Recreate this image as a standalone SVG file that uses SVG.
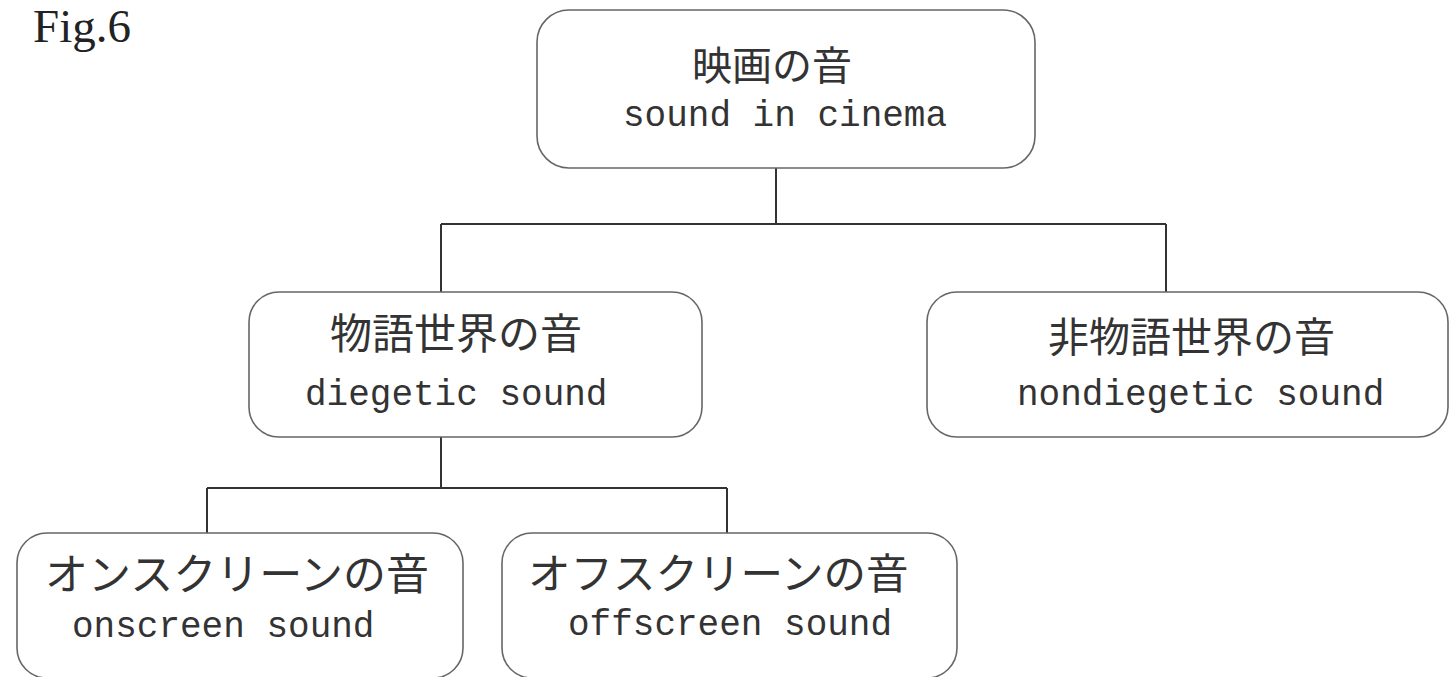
<svg xmlns="http://www.w3.org/2000/svg" width="1450" height="677" viewBox="0 0 1450 677">
<style>
.box{fill:#fff;stroke:#666;stroke-width:1.6}
.conn{fill:none;stroke:#333;stroke-width:2}
.jp{font-family:"Noto Sans CJK JP","Noto Sans CJK SC",sans-serif;font-size:41px;fill:#333}
.en{font-family:"Liberation Mono",monospace;font-size:36px;fill:#333}
.fig{font-family:"Liberation Serif",serif;font-size:47px;fill:#222}
</style>
<rect width="1450" height="677" fill="#fff"/>
<text class="fig" x="33" y="42">Fig.6</text>
<g id="connectors">
<path class="conn" d="M776 168 V224 M441 224 H1166 M441 224 V292 M1166 224 V292"/>
<path class="conn" d="M441 437 V488 M207 488 H727 M207 488 V533 M727 488 V533"/>
</g>
<g id="n-cinema">
<rect class="box" x="537" y="10" width="498" height="158" rx="32"/>
<text class="jp" x="692" y="80" style="font-size:40px">映画の音</text>
<text class="en" x="623" y="126">sound in cinema</text>
</g>
<g id="n-diegetic">
<rect class="box" x="249" y="292" width="453" height="145" rx="30"/>
<text class="jp" x="330" y="349" style="font-size:42px">物語世界の音</text>
<text class="en" x="305" y="405">diegetic sound</text>
</g>
<g id="n-nondiegetic">
<rect class="box" x="927" y="292" width="521" height="145" rx="30"/>
<text class="jp" x="1048" y="352">非物語世界の音</text>
<text class="en" x="1017" y="405">nondiegetic sound</text>
</g>
<g id="n-onscreen">
<rect class="box" x="17" y="533" width="446" height="145" rx="30"/>
<text class="jp" x="45" y="590" style="font-size:43px">オンスクリーンの音</text>
<text class="en" x="72" y="637">onscreen sound</text>
</g>
<g id="n-offscreen">
<rect class="box" x="502" y="533" width="455" height="145" rx="30"/>
<text class="jp" x="528" y="589" style="font-size:42.5px">オフスクリーンの音</text>
<text class="en" x="568" y="635">offscreen sound</text>
</g>
</svg>
